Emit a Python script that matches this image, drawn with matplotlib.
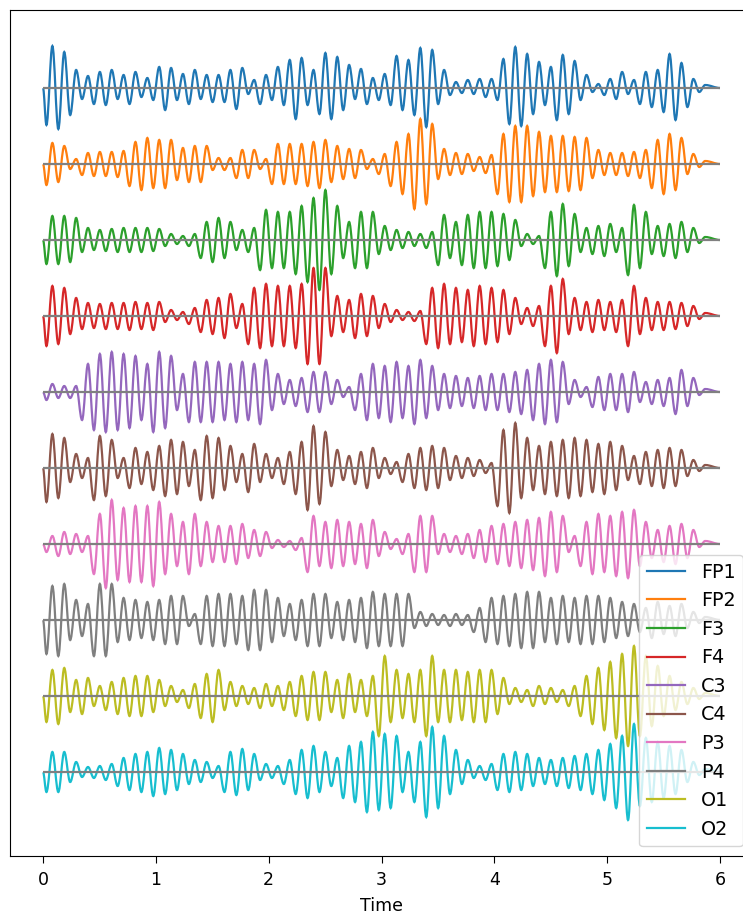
import matplotlib.pyplot as plt
import numpy as np
from matplotlib.path import Path
from matplotlib.patches import PathPatch
from matplotlib.lines import Line2D

'''
    EEG STACK - per-cycle peak amplitudes read off the traces
    (units: px of the original plot, one row = 76)
'''
channels = ["FP1", "FP2", "F3", "F4", "C3", "C4", "P3", "P4", "O1", "O2"]

fp1 = [42, 36, 18, 12, 16, 18, 13, 16, 10, 21, 20, 14, 18, 13, 13, 18, 20, 8, 13, 21,
       28, 30, 18, 35, 31, 23, 19, 10, 14, 32, 28, 40, 38, 18, 6, 8, 9, 9, 29, 41,
       34, 26, 21, 33, 27, 13, 4, 9, 16, 8, 16, 18, 34, 25, 9, 3]
fp1_troughs = [37, 41, 27, 11, 16, 17, 11, 16, 9, 12, 22, 12, 16, 11, 14, 14, 21, 6, 16, 12,
               17, 31, 17, 26, 31, 22, 11, 16, 12, 17, 22, 27, 39, 16, 7, 5, 6, 9, 12, 36,
               38, 26, 17, 32, 26, 12, 4, 7, 11, 6, 16, 19, 24, 32, 19, 4]
fp2 = [21, 18, 5, 11, 12, 12, 13, 22, 26, 24, 24, 16, 18, 18, 6, 6, 14, 14, 5, 20,
       20, 20, 22, 24, 18, 15, 14, 5, 10, 22, 30, 45, 40, 15, 11, 10, 7, 9, 30, 38,
       38, 32, 28, 28, 27, 26, 14, 11, 11, 12, 14, 24, 30, 26, 10, 3]
f3 = [24, 24, 22, 12, 10, 11, 12, 12, 12, 11, 6, 4, 6, 18, 22, 18, 10, 12, 30, 28,
      28, 34, 42, 50, 34, 18, 28, 28, 14, 10, 8, 6, 8, 25, 18, 25, 28, 28, 26, 20,
      6, 4, 28, 36, 26, 12, 14, 16, 12, 35, 28, 14, 16, 18, 12, 3]
f4 = [30, 28, 18, 13, 12, 13, 13, 14, 13, 14, 6, 4, 8, 16, 18, 22, 12, 28, 32, 30,
      30, 32, 48, 48, 20, 16, 22, 20, 12, 6, 4, 5, 28, 32, 28, 26, 30, 28, 26, 18,
      8, 10, 30, 37, 18, 14, 16, 14, 16, 30, 18, 14, 14, 13, 10, 3]
c3 = [8, 6, 6, 28, 38, 40, 38, 36, 28, 40, 36, 18, 30, 30, 30, 28, 30, 28, 32, 18,
      12, 14, 20, 20, 12, 5, 18, 28, 26, 30, 26, 32, 26, 18, 16, 14, 16, 18, 18, 20,
      22, 28, 32, 30, 12, 5, 15, 18, 18, 20, 10, 12, 14, 22, 14, 3]
c4 = [34, 30, 14, 10, 32, 28, 10, 20, 16, 22, 28, 26, 18, 32, 30, 22, 14, 24, 14, 10,
      16, 26, 42, 36, 18, 12, 16, 20, 10, 6, 14, 20, 22, 20, 12, 10, 8, 5, 38, 45,
      30, 22, 26, 28, 30, 28, 24, 26, 22, 12, 16, 18, 20, 18, 8, 3]
p3 = [8, 12, 10, 8, 30, 44, 36, 38, 38, 42, 30, 22, 30, 22, 18, 18, 20, 14, 12, 4,
      3, 6, 28, 22, 24, 22, 20, 24, 12, 5, 10, 28, 28, 10, 8, 10, 14, 18, 20, 22,
      24, 26, 32, 28, 8, 22, 30, 28, 32, 34, 22, 14, 18, 20, 14, 3]
p4 = [34, 36, 20, 16, 36, 36, 22, 20, 18, 20, 24, 24, 6, 24, 26, 26, 24, 30, 30, 22,
      16, 20, 26, 26, 18, 20, 22, 28, 26, 26, 26, 8, 6, 5, 6, 5, 12, 22, 24, 26,
      28, 28, 22, 24, 22, 24, 24, 22, 18, 16, 12, 18, 14, 16, 8, 3]
o1 = [26, 28, 16, 18, 10, 14, 18, 20, 20, 16, 10, 6, 12, 22, 26, 14, 10, 8, 12, 10,
      14, 20, 24, 24, 16, 22, 16, 20, 40, 26, 22, 26, 40, 26, 26, 24, 26, 26, 18, 8,
      6, 10, 8, 6, 10, 20, 28, 34, 42, 50, 40, 30, 20, 14, 8, 3]
o2 = [20, 20, 10, 5, 6, 8, 14, 18, 20, 24, 22, 18, 12, 10, 6, 20, 23, 18, 8, 6,
      12, 22, 26, 20, 14, 26, 30, 40, 38, 36, 20, 30, 45, 36, 22, 12, 6, 8, 18, 20,
      18, 14, 12, 14, 16, 18, 22, 28, 36, 48, 34, 30, 26, 22, 10, 3]

peaks = [fp1, fp2, f3, f4, c3, c4, p3, p4, o1, o2]
troughs = [fp1_troughs, fp2, f3, f4, c3, c4, p3, p4, o1, o2]

DURATION = 6.0
FIRST_PEAK = 0.083
CYCLE = 0.1052
ROW_GAP = 76
LW = 1.6


def wave_path(t, y):
    # smooth curve through the extrema (flat tangent at each one)
    verts = [(t[0], y[0])]
    codes = [Path.MOVETO]
    for i in range(len(t) - 1):
        d = (t[i + 1] - t[i]) * 0.36
        verts += [(t[i] + d, y[i]), (t[i + 1] - d, y[i + 1]), (t[i + 1], y[i + 1])]
        codes += [Path.CURVE4] * 3
    return Path(verts, codes)


fig = plt.figure(figsize=(7.43, 9.14), dpi=100)
ax = fig.add_axes([10.3 / 743, 58 / 914, 742.4 / 743, 846 / 914])

t_peak = FIRST_PEAK + CYCLE * np.arange(len(fp1))
t_trough = t_peak - CYCLE / 2
t = np.concatenate([[0.0], np.column_stack([t_trough, t_peak]).ravel(), [DURATION]])

offsets = -ROW_GAP * np.arange(len(channels))
handles = []
for i, (name, up, down, off) in enumerate(zip(channels, peaks, troughs, offsets)):
    y = np.column_stack([-np.array(down), np.array(up)]).ravel()
    y = np.concatenate([[0.0], y, [0.0]]) + off
    ax.add_patch(PathPatch(wave_path(t, y), fill=False, edgecolor=f"C{i}", lw=LW))
    handles.append(Line2D([], [], color=f"C{i}", lw=LW, label=name))
ax.hlines(offsets, 0, DURATION, color="gray", lw=LW, zorder=3)

ax.set_xlim(-0.29, 6.29)
ax.set_ylim(-768, 78)
ax.set_yticks([])
ax.set_xticks(range(7))
ax.tick_params(labelsize=12.5, length=5, pad=5.5)
ax.set_xlabel("Time", fontsize=12.5, labelpad=6)
ax.legend(handles=handles, loc="lower right", fontsize=13.8)

fig.savefig("out.png", dpi=100)
